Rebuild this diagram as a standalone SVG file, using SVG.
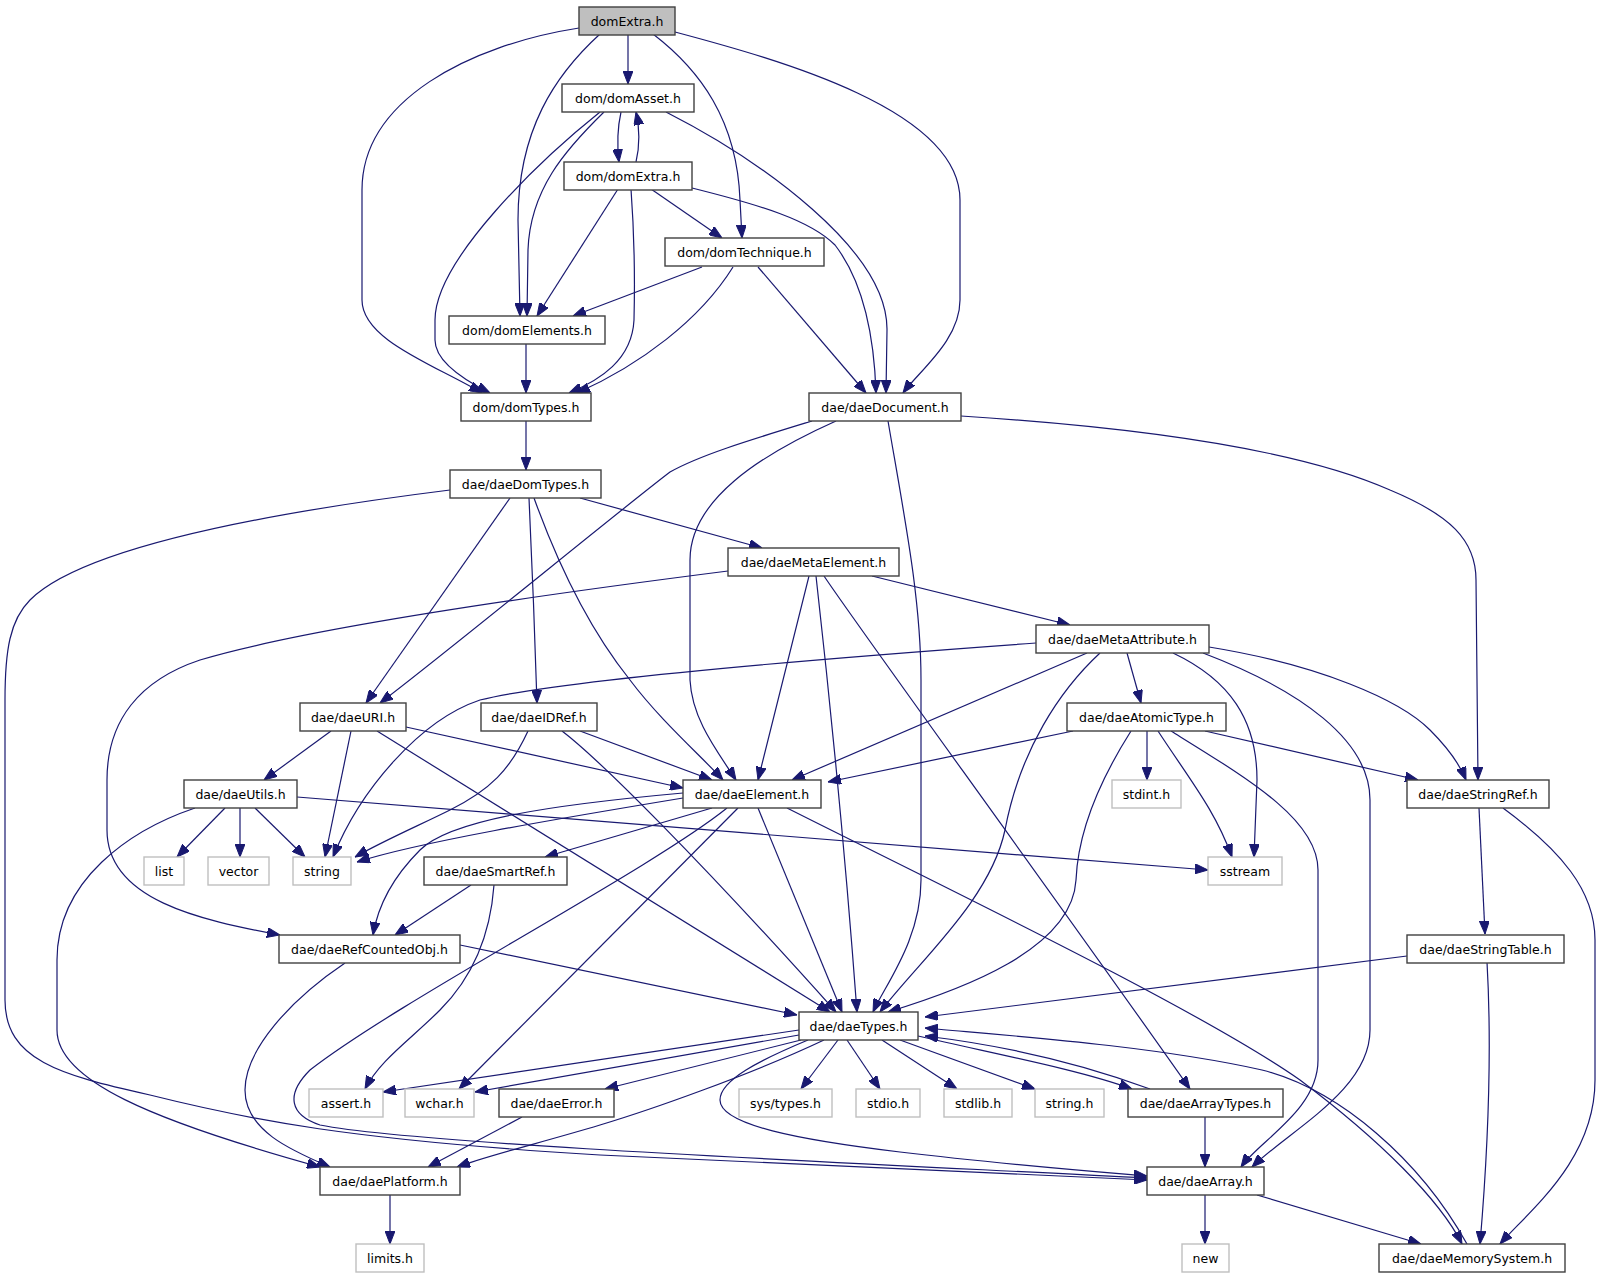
<svg xmlns="http://www.w3.org/2000/svg" width="1605" height="1277" viewBox="0 0 1605 1277">
<style>
.n rect{fill:#fff;stroke:#404040;stroke-width:1.4}
.n.g rect{stroke:#bfbfbf}
.n.r rect{fill:#bfbfbf}
.n text{font-family:"DejaVu Sans","Liberation Sans",sans-serif;font-size:12.5px;text-anchor:middle;fill:#000}
#edges path{fill:none;stroke:#191970;stroke-width:1.2;marker-end:url(#a)}
</style>
<defs>
<marker id="a" markerWidth="13" markerHeight="10" refX="13" refY="5" orient="auto" markerUnits="userSpaceOnUse"><path d="M0,0 L13,5 L0,10 z" fill="#191970" stroke="#191970" stroke-width="1"/></marker>
</defs>
<rect width="1605" height="1277" fill="#fff"/>
<g id="edges">
<path d="M579,28 C470,45 362,100 362,190 L362,300 C362,340 435,365 482,393"/>
<path d="M600,34 C555,75 518,130 518,220 L520,316"/>
<path d="M628,34 L628,84"/>
<path d="M653,34 C700,70 737,120 740,200 L742,238"/>
<path d="M675,32 C780,60 960,110 960,200 L960,300 C960,340 920,370 903,393"/>
<path d="M621,112 C617,130 617,145 619,162"/>
<path d="M636,162 C640,145 640,130 636,112"/>
<path d="M600,112 C540,160 435,260 435,320 L435,340 C435,360 460,378 490,393"/>
<path d="M604,112 C565,150 530,190 528,250 L527,316"/>
<path d="M666,112 C760,160 888,250 887,330 L886,393"/>
<path d="M651,189 L722,238"/>
<path d="M618,189 L537,316"/>
<path d="M631,189 C634,230 635,280 634,320 C632,360 600,380 569,393"/>
<path d="M692,188 C760,205 810,220 835,245 C862,280 874,330 876,393"/>
<path d="M702,267 L573,316"/>
<path d="M733,267 C700,320 640,365 577,393"/>
<path d="M758,267 L866,393"/>
<path d="M526,344 L526,393"/>
<path d="M526,421 L526,470"/>
<path d="M961,416 C1150,428 1300,450 1390,490 C1450,515 1476,540 1476,580 L1478,780"/>
<path d="M812,421 C750,440 700,455 670,472 C620,510 450,650 380,703"/>
<path d="M836,421 C760,455 690,500 690,560 L690,680 C692,720 718,752 736,780"/>
<path d="M888,421 C905,520 921,600 921,680 L921,880 C921,940 885,985 873,1012"/>
<path d="M450,490 C250,515 80,550 30,600 C10,620 5,650 5,700 L5,1000 C5,1060 60,1075 150,1095 C250,1120 350,1140 600,1155 C900,1170 1050,1175 1147,1180"/>
<path d="M510,498 L366,703"/>
<path d="M529,498 C532,560 535,640 537,703"/>
<path d="M534,498 C560,570 590,630 630,680 C660,720 700,755 723,780"/>
<path d="M580,498 L762,548"/>
<path d="M728,571 C500,600 300,630 200,660 C140,680 107,720 107,780 L107,830 C107,900 200,920 280,935"/>
<path d="M809,576 L758,780"/>
<path d="M816,576 C830,700 845,850 857,1012"/>
<path d="M824,576 C860,630 1050,890 1190,1089"/>
<path d="M872,576 L1070,625"/>
<path d="M1036,643 C800,660 560,680 480,700 C420,720 360,790 333,857"/>
<path d="M1087,653 L792,780"/>
<path d="M1100,653 C1060,690 1020,750 1005,830 C990,900 920,960 880,1012"/>
<path d="M1127,653 L1141,703"/>
<path d="M1173,653 C1230,680 1257,720 1257,780 L1254,857"/>
<path d="M1203,653 C1300,690 1370,740 1370,800 L1370,1030 C1370,1090 1290,1130 1252,1167"/>
<path d="M1209,647 C1320,665 1400,700 1430,730 C1450,750 1460,765 1466,780"/>
<path d="M1073,731 L828,782"/>
<path d="M1131,731 C1100,780 1078,830 1076,880 C1072,950 960,990 888,1012"/>
<path d="M1147,731 L1147,780"/>
<path d="M1158,731 C1190,780 1215,810 1232,857"/>
<path d="M1171,731 C1250,780 1318,820 1318,870 L1318,1060 C1318,1110 1260,1140 1241,1167"/>
<path d="M1205,731 L1418,780"/>
<path d="M1479,808 L1485,934"/>
<path d="M1503,808 C1560,850 1595,890 1595,940 L1595,1080 C1595,1160 1530,1210 1500,1244"/>
<path d="M1407,956 L925,1017"/>
<path d="M1487,962 C1492,1050 1488,1150 1480,1244"/>
<path d="M683,798 C550,820 420,842 357,862"/>
<path d="M683,793 C550,805 450,820 420,850 C395,875 378,905 373,935"/>
<path d="M712,808 L545,857"/>
<path d="M758,808 L842,1012"/>
<path d="M738,808 L459,1089"/>
<path d="M727,808 C650,870 400,1000 310,1070 C285,1095 290,1115 320,1125 C420,1145 900,1165 1147,1178"/>
<path d="M787,808 C950,890 1200,1010 1300,1080 C1380,1140 1440,1200 1462,1244"/>
<path d="M331,731 L264,780"/>
<path d="M351,731 L325,857"/>
<path d="M406,727 L683,788"/>
<path d="M377,731 L830,1012"/>
<path d="M528,731 C510,770 490,790 450,810 C420,825 385,840 355,857"/>
<path d="M580,731 L712,780"/>
<path d="M562,731 C600,760 700,860 836,1012"/>
<path d="M225,808 L177,857"/>
<path d="M240,808 L240,857"/>
<path d="M255,808 L305,857"/>
<path d="M297,797 C500,812 800,835 1208,870"/>
<path d="M195,808 C130,830 57,880 57,960 L57,1030 C57,1080 150,1120 320,1167"/>
<path d="M471,885 L395,935"/>
<path d="M494,885 C490,940 470,980 440,1010 C410,1040 380,1060 365,1089"/>
<path d="M460,945 L797,1015"/>
<path d="M345,963 C290,1000 245,1050 245,1090 C245,1130 290,1150 330,1167"/>
<path d="M799,1030 L383,1092"/>
<path d="M799,1035 L475,1092"/>
<path d="M801,1040 L605,1089"/>
<path d="M824,1040 C750,1075 650,1110 600,1125 C540,1143 490,1155 457,1167"/>
<path d="M808,1040 C760,1060 720,1080 720,1100 C720,1125 800,1140 900,1152 C1000,1164 1100,1172 1147,1176"/>
<path d="M838,1040 L801,1089"/>
<path d="M847,1040 L880,1089"/>
<path d="M882,1040 L957,1089"/>
<path d="M900,1040 L1035,1089"/>
<path d="M918,1036 C1000,1055 1080,1070 1132,1089"/>
<path d="M1150,1089 C1080,1063 1000,1045 925,1036"/>
<path d="M1467,1244 C1420,1160 1340,1090 1262,1070 C1150,1045 1000,1035 925,1028"/>
<path d="M522,1117 L428,1167"/>
<path d="M390,1194 L390,1244"/>
<path d="M1205,1117 L1205,1167"/>
<path d="M1205,1195 L1205,1244"/>
<path d="M1257,1195 L1421,1244"/>
</g>
<g id="n0" class="n r"><rect x="579" y="7" width="96" height="28"/><text x="627" y="25.5">domExtra.h</text></g>
<g id="n1" class="n"><rect x="562" y="84" width="132" height="28"/><text x="628" y="102.5">dom/domAsset.h</text></g>
<g id="n2" class="n"><rect x="564" y="162" width="128" height="28"/><text x="628" y="180.5">dom/domExtra.h</text></g>
<g id="n3" class="n"><rect x="665" y="238" width="159" height="28"/><text x="744.5" y="256.5">dom/domTechnique.h</text></g>
<g id="n4" class="n"><rect x="449" y="316" width="156" height="28"/><text x="527" y="334.5">dom/domElements.h</text></g>
<g id="n5" class="n"><rect x="461" y="393" width="130" height="28"/><text x="526" y="411.5">dom/domTypes.h</text></g>
<g id="n6" class="n"><rect x="809" y="393" width="152" height="28"/><text x="885" y="411.5">dae/daeDocument.h</text></g>
<g id="n7" class="n"><rect x="450" y="470" width="151" height="28"/><text x="525.5" y="488.5">dae/daeDomTypes.h</text></g>
<g id="n8" class="n"><rect x="728" y="548" width="171" height="28"/><text x="813.5" y="566.5">dae/daeMetaElement.h</text></g>
<g id="n9" class="n"><rect x="1036" y="625" width="173" height="28"/><text x="1122.5" y="643.5">dae/daeMetaAttribute.h</text></g>
<g id="n10" class="n"><rect x="300" y="703" width="106" height="28"/><text x="353" y="721.5">dae/daeURI.h</text></g>
<g id="n11" class="n"><rect x="481" y="703" width="116" height="28"/><text x="539" y="721.5">dae/daeIDRef.h</text></g>
<g id="n12" class="n"><rect x="1067" y="703" width="159" height="28"/><text x="1146.5" y="721.5">dae/daeAtomicType.h</text></g>
<g id="n13" class="n"><rect x="184" y="780" width="113" height="28"/><text x="240.5" y="798.5">dae/daeUtils.h</text></g>
<g id="n14" class="n"><rect x="683" y="780" width="138" height="28"/><text x="752" y="798.5">dae/daeElement.h</text></g>
<g id="n15" class="n g"><rect x="1112" y="780" width="69" height="28"/><text x="1146.5" y="798.5">stdint.h</text></g>
<g id="n16" class="n"><rect x="1407" y="780" width="142" height="28"/><text x="1478" y="798.5">dae/daeStringRef.h</text></g>
<g id="n17" class="n g"><rect x="144" y="857" width="40" height="28"/><text x="164" y="875.5">list</text></g>
<g id="n18" class="n g"><rect x="208" y="857" width="61" height="28"/><text x="238.5" y="875.5">vector</text></g>
<g id="n19" class="n g"><rect x="293" y="857" width="58" height="28"/><text x="322" y="875.5">string</text></g>
<g id="n20" class="n"><rect x="424" y="857" width="143" height="28"/><text x="495.5" y="875.5">dae/daeSmartRef.h</text></g>
<g id="n21" class="n g"><rect x="1208" y="857" width="74" height="28"/><text x="1245" y="875.5">sstream</text></g>
<g id="n22" class="n"><rect x="279" y="935" width="181" height="28"/><text x="369.5" y="953.5">dae/daeRefCountedObj.h</text></g>
<g id="n23" class="n"><rect x="1407" y="935" width="157" height="28"/><text x="1485.5" y="953.5">dae/daeStringTable.h</text></g>
<g id="n24" class="n"><rect x="799" y="1012" width="119" height="28"/><text x="858.5" y="1030.5">dae/daeTypes.h</text></g>
<g id="n25" class="n g"><rect x="309" y="1089" width="74" height="28"/><text x="346" y="1107.5">assert.h</text></g>
<g id="n26" class="n g"><rect x="405" y="1089" width="69" height="28"/><text x="439.5" y="1107.5">wchar.h</text></g>
<g id="n27" class="n"><rect x="499" y="1089" width="115" height="28"/><text x="556.5" y="1107.5">dae/daeError.h</text></g>
<g id="n28" class="n g"><rect x="739" y="1089" width="93" height="28"/><text x="785.5" y="1107.5">sys/types.h</text></g>
<g id="n29" class="n g"><rect x="856" y="1089" width="64" height="28"/><text x="888" y="1107.5">stdio.h</text></g>
<g id="n30" class="n g"><rect x="944" y="1089" width="68" height="28"/><text x="978" y="1107.5">stdlib.h</text></g>
<g id="n31" class="n g"><rect x="1035" y="1089" width="69" height="28"/><text x="1069.5" y="1107.5">string.h</text></g>
<g id="n32" class="n"><rect x="1128" y="1089" width="155" height="28"/><text x="1205.5" y="1107.5">dae/daeArrayTypes.h</text></g>
<g id="n33" class="n"><rect x="320" y="1167" width="140" height="28"/><text x="390" y="1185.5">dae/daePlatform.h</text></g>
<g id="n34" class="n"><rect x="1147" y="1167" width="117" height="28"/><text x="1205.5" y="1185.5">dae/daeArray.h</text></g>
<g id="n35" class="n g"><rect x="356" y="1244" width="68" height="28"/><text x="390" y="1262.5">limits.h</text></g>
<g id="n36" class="n g"><rect x="1182" y="1244" width="47" height="28"/><text x="1205.5" y="1262.5">new</text></g>
<g id="n37" class="n"><rect x="1379" y="1244" width="186" height="28"/><text x="1472" y="1262.5">dae/daeMemorySystem.h</text></g>
</svg>
